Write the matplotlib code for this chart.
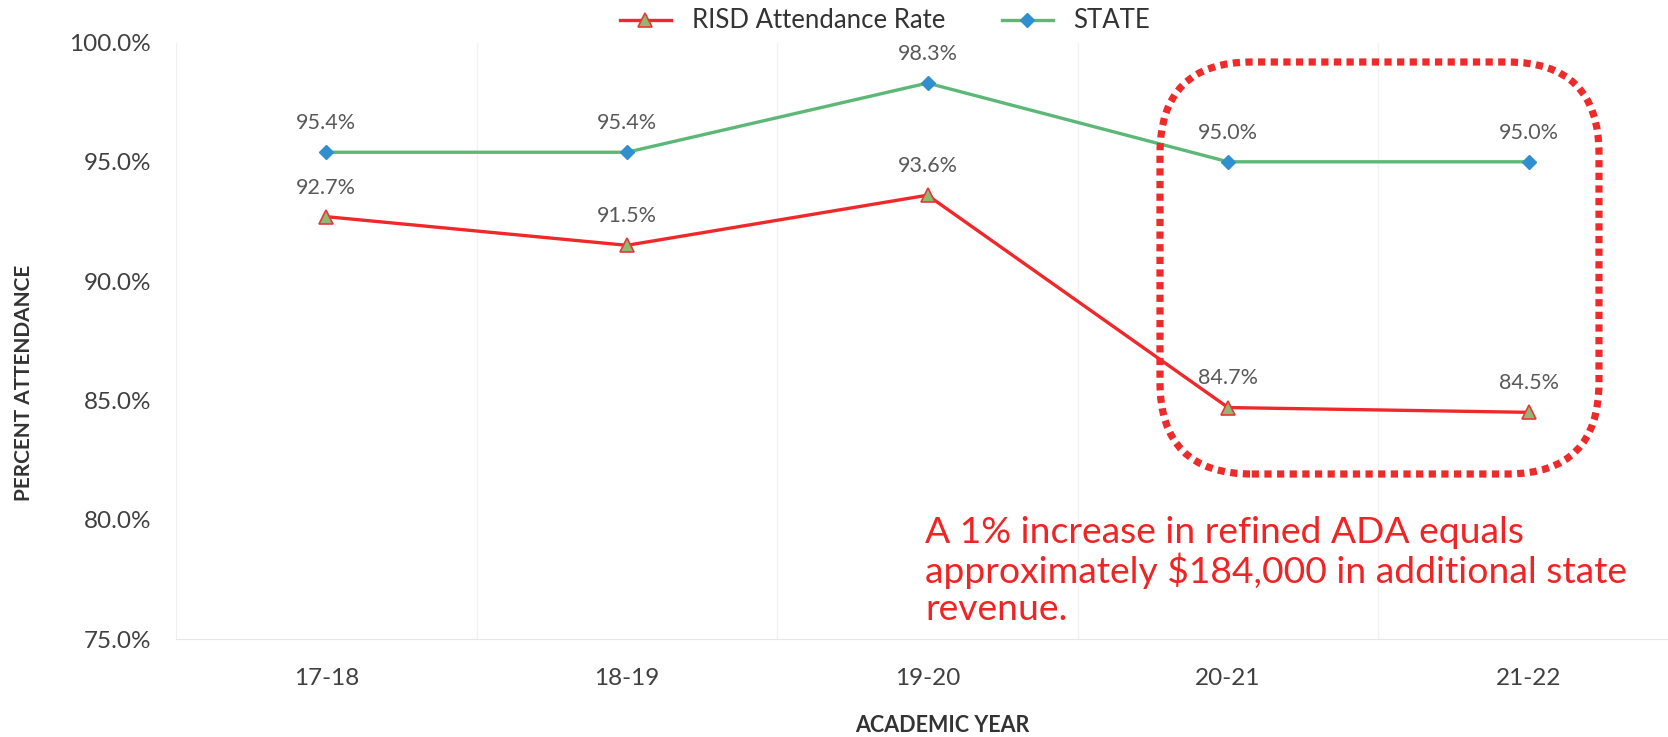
import matplotlib
matplotlib.use("Agg")
import matplotlib.pyplot as plt
from matplotlib.patches import FancyBboxPatch
from matplotlib.ticker import FuncFormatter

# Attendance data by academic year
years = ["17-18", "18-19", "19-20", "20-21", "21-22"]
risd_rate = [92.7, 91.5, 93.6, 84.7, 84.5]
state_rate = [95.4, 95.4, 98.3, 95.0, 95.0]

note_text = ("A 1% increase in refined ADA equals\n"
             "approximately $184,000 in additional state\n"
             "revenue.")

plt.rcParams["font.family"] = ["Lato", "DejaVu Sans"]

W, H = 1668, 737
fig = plt.figure(figsize=(W / 100, H / 100), dpi=100)

# axes runs slightly past the right edge of the figure
left_px, top_px, bottom_px = 176, 42.5, 639
right_px = 1679
ax = fig.add_axes([left_px / W, 1 - bottom_px / H,
                   (right_px - left_px) / W, (bottom_px - top_px) / H])

x = list(range(len(years)))
ax.plot(x, risd_rate, color="#f0282a", lw=2.4, marker="^", markersize=10,
        markerfacecolor="#8dba6e", markeredgecolor="#e8363a", markeredgewidth=1.2,
        label="RISD Attendance Rate", zorder=3)
ax.plot(x, state_rate, color="#5cb877", lw=2.4, marker="D", markersize=7,
        markerfacecolor="#2f8fcf", markeredgecolor="#2f8fcf",
        label="STATE", zorder=3)

for xi, v in zip(x, risd_rate):
    ax.annotate(f"{v:.1f}%", (xi, v), xytext=(0, 21), textcoords="offset points",
                ha="center", va="center", fontsize=15.5, color="#595959")
for xi, v in zip(x, state_rate):
    ax.annotate(f"{v:.1f}%", (xi, v), xytext=(0, 21), textcoords="offset points",
                ha="center", va="center", fontsize=15.5, color="#595959")

ax.set_xlim(-0.5, len(years) - 0.5)
ax.set_ylim(75, 100)
ax.set_yticks([75, 80, 85, 90, 95, 100])
ax.yaxis.set_major_formatter(FuncFormatter(lambda v, p: f"{v:.1f}%"))
ax.set_xticks(x)
ax.set_xticklabels(years)
ax.tick_params(axis="both", length=0, labelsize=17.5, colors="#404040")
ax.tick_params(axis="x", pad=21)
ax.tick_params(axis="y", pad=18)

# faint category separators
for b in [i + 0.5 for i in range(len(years) - 1)]:
    ax.axvline(b, color="#f2f2f2", lw=1, zorder=0)

for side in ["top", "right"]:
    ax.spines[side].set_visible(False)
ax.spines["left"].set_color("#f0f0f0")
ax.spines["bottom"].set_color("#e6e6e6")

fig.text(24 / W, 1 - 383 / H, "PERCENT ATTENDANCE", fontsize=15,
         fontweight="bold", color="#333333", ha="center", va="center",
         rotation=90)
fig.text(942 / W, 1 - 725 / H, "ACADEMIC YEAR", fontsize=15.5,
         fontweight="bold", color="#333333", ha="center", va="center")

fig.legend(loc="center", bbox_to_anchor=(885 / W, 1 - 21 / H), ncol=2,
           frameon=False, fontsize=18.5, handlelength=2.0, columnspacing=2.2,
           labelcolor="#333333")

# dotted highlight box around the last two years
x0, y0 = 1160, 62
x1, y1 = 1599, 474
box = FancyBboxPatch((x0 / W, 1 - y1 / H), (x1 - x0) / W, (y1 - y0) / H,
                     boxstyle="round,pad=0,rounding_size=0.055",
                     transform=fig.transFigure, fill=False,
                     edgecolor="#ee2a2a", lw=5.2, linestyle=(0, (1.0, 0.75)),
                     mutation_aspect=W / H, zorder=5)
fig.patches.append(box)

fig.text(925 / W, 1 - 571 / H, note_text, fontsize=26.8, color="#f02424",
         ha="left", va="center", linespacing=1.12)

fig.savefig("out.png", dpi=100)
